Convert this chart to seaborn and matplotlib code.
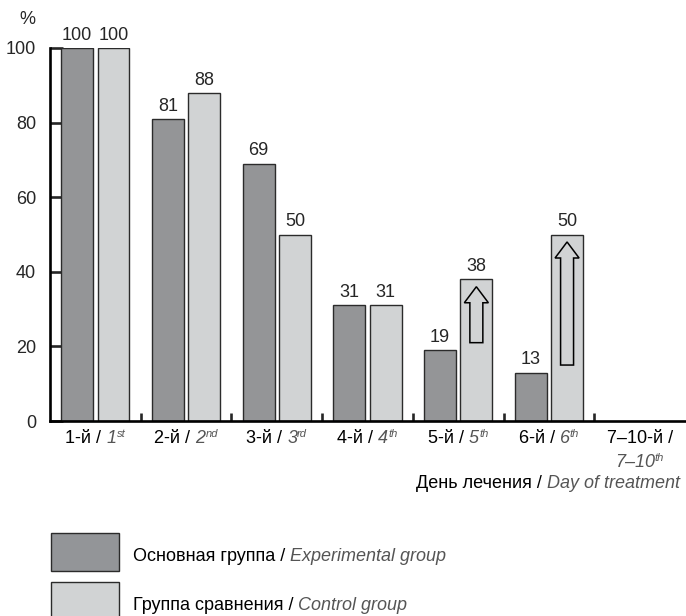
import numpy as np
import pandas as pd
import matplotlib
matplotlib.use("Agg")
import matplotlib.pyplot as plt
import matplotlib.transforms as mtransforms
from matplotlib.patches import FancyArrow, Rectangle
from matplotlib.ticker import FixedLocator, NullFormatter
import seaborn as sns

# ---- data -------------------------------------------------------------
days_ru = ["1-й", "2-й", "3-й", "4-й", "5-й", "6-й", "7–10-й"]
days_en = ["1", "2", "3", "4", "5", "6", "7–10"]
days_sup = ["st", "nd", "rd", "th", "th", "th", "th"]
experimental = [100, 81, 69, 31, 19, 13]
control = [100, 88, 50, 31, 38, 50]
group_ru = ["Основная группа", "Группа сравнения"]
group_en = ["Experimental group", "Control group"]
axis_ru = "День лечения"
axis_en = "Day of treatment"
y_ticks = [0, 20, 40, 60, 80, 100]

DARK = "#939598"
LIGHT = "#d1d3d4"
EN_GRAY = "#555555"
EDGE = "#2b2b2b"
FS = 13

sns.set_style("white")
plt.rcParams["font.family"] = ["Liberation Sans", "DejaVu Sans"]
plt.rcParams["font.size"] = FS

rows = []
for i, (e, c) in enumerate(zip(experimental, control)):
    rows.append({"day": days_ru[i], "group": group_ru[0], "value": e})
    rows.append({"day": days_ru[i], "group": group_ru[1], "value": c})
df = pd.DataFrame(rows)

W, H = 686, 616
fig = plt.figure(figsize=(W / 100, H / 100), dpi=100)
ax = fig.add_axes([50 / W, (H - 421) / H, 635 / W, 373 / H])

sns.barplot(data=df, x="day", y="value", hue="group", order=days_ru,
            hue_order=group_ru, palette=[DARK, LIGHT], width=0.8, gap=0.12,
            edgecolor=EDGE, linewidth=1.0, errorbar=None, legend=False, ax=ax)

ax.set_xlim(-0.5, len(days_ru) - 0.5)
ax.set_ylim(0, 100)
ax.set_xlabel("")
ax.set_ylabel("")

# value labels above each bar
for cont in ax.containers:
    ax.bar_label(cont, fmt="%d", padding=3, fontsize=FS, clip_on=False)

# hollow arrows inside the control bars on days 5 and 6
for i in (4, 5):
    xc = i + 0.2
    y0 = experimental[i] + 2
    y1 = control[i] - 2
    ax.add_patch(FancyArrow(xc, y0, 0, y1 - y0, width=0.143, head_width=0.265,
                            head_length=4.3, length_includes_head=True,
                            facecolor=LIGHT, edgecolor="black", linewidth=1.1,
                            zorder=5))

# axes styling
for side in ("top", "right"):
    ax.spines[side].set_visible(False)
for side in ("left", "bottom"):
    ax.spines[side].set_linewidth(1.9)
    ax.spines[side].set_color("black")
ax.set_yticks(y_ticks)
ax.tick_params(axis="y", direction="in", length=9, width=1.9, pad=10,
               labelsize=FS, left=True)
ax.set_xticks(range(len(days_ru)))
ax.set_xticklabels([])
ax.tick_params(axis="x", which="major", length=0)
ax.xaxis.set_minor_locator(FixedLocator(np.arange(0.5, len(days_ru) - 0.5, 1)))
ax.xaxis.set_minor_formatter(NullFormatter())
ax.tick_params(axis="x", which="minor", direction="in", length=6, width=1.9,
               bottom=True)

renderer = fig.canvas.get_renderer()


def rich_text(x, y, pieces, transform, ha="center"):
    """Draw consecutive text pieces with individual styles on one baseline."""
    styles = []
    widths = []
    for s, kw in pieces:
        kw = dict(kw)
        dy = kw.pop("dy", 0)
        styles.append((s, kw, dy))
        t = fig.text(0, 0, s, **kw)
        widths.append(t.get_window_extent(renderer).width)
        t.remove()
    total = sum(widths)
    start = {"center": -total / 2, "left": 0, "right": -total}[ha]
    cum = start
    for (s, kw, dy), w in zip(styles, widths):
        tr = mtransforms.offset_copy(transform, fig=fig, x=cum, y=dy,
                                     units="dots")
        fig.text(x, y, s, transform=tr, ha="left", va="baseline", **kw)
        cum += w


ru_kw = dict(fontsize=FS, color="black")
en_kw = dict(fontsize=FS, color=EN_GRAY, style="italic")
sup_kw = dict(fontsize=8, color=EN_GRAY, style="italic", dy=6)

xform = mtransforms.blended_transform_factory(ax.transData, fig.transFigure)
for i in range(len(days_ru) - 1):
    rich_text(i, (H - 443) / H,
              [(days_ru[i] + " / ", ru_kw), (days_en[i], en_kw),
               (days_sup[i], sup_kw)], xform)
last = len(days_ru) - 1
rich_text(last, (H - 443) / H, [(days_ru[last] + " /", ru_kw)], xform)
rich_text(last, (H - 467) / H,
          [(days_en[last], en_kw), (days_sup[last], sup_kw)], xform)

# axis caption
rich_text(680 / W, (H - 488) / H,
          [(axis_ru + " / ", ru_kw), (axis_en, en_kw)], fig.transFigure,
          ha="right")

# unit label
fig.text(27 / W, (H - 20) / H, "%", ha="center", va="center", fontsize=FS)

# legend
for k, (color, top) in enumerate([(DARK, 533), (LIGHT, 582)]):
    fig.patches.append(Rectangle((51 / W, (H - top - 38) / H), 68 / W, 38 / H,
                                 transform=fig.transFigure, facecolor=color,
                                 edgecolor=EDGE, linewidth=1.0))
    rich_text(133 / W, (H - top - 28) / H,
              [(group_ru[k] + " / ", ru_kw), (group_en[k], en_kw)],
              fig.transFigure, ha="left")

fig.savefig("out.png", dpi=100)
